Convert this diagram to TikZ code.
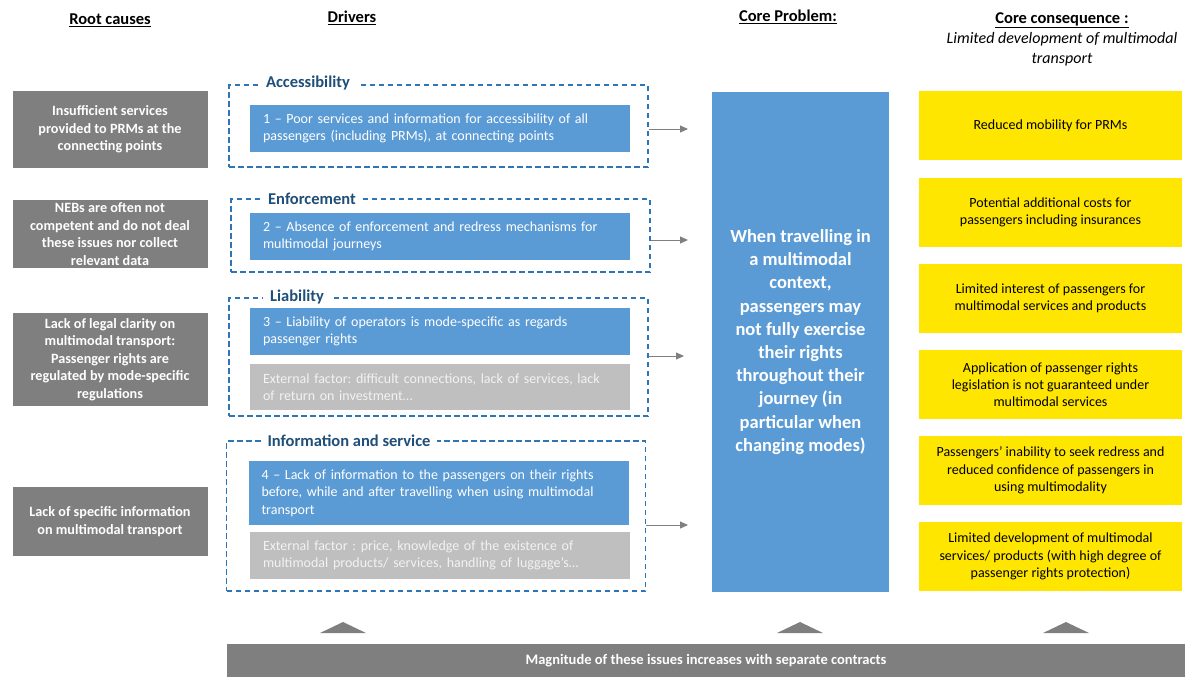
\documentclass[tikz,border=0pt]{standalone}
\usepackage{fontspec}
\setmainfont{Carlito}
\usetikzlibrary{positioning,arrows.meta}

\definecolor{rootgrey}{HTML}{7F7F7F}
\definecolor{driverblue}{HTML}{5B9BD5}
\definecolor{extgrey}{HTML}{BFBFBF}
\definecolor{exttext}{HTML}{F2F2F2}
\definecolor{consyellow}{HTML}{FFE600}
\definecolor{dashblue}{HTML}{2E75B6}
\definecolor{titleblue}{HTML}{1F4E79}

\tikzset{
	header/.style={font=\bfseries\fontsize{16.5}{20}\selectfont, align=center},
	rootbox/.style={fill=rootgrey, text=white, font=\bfseries\fontsize{14.2}{17.5}\selectfont,
			align=center, inner sep=0, minimum width=195},
	group/.style={draw=dashblue, line width=1.1pt, dash pattern=on 5.5pt off 3.5pt,
			inner sep=0, minimum width=419},
	grouptitle/.style={fill=white, text=titleblue, font=\bfseries\fontsize{16.5}{20}\selectfont, inner xsep=7pt},
	driverbox/.style={fill=driverblue, text=white, font=\fontsize{14}{17.5}\selectfont,
			align=left, inner xsep=13, inner ysep=0, text width=354, minimum width=380},
	extbox/.style={driverbox, fill=extgrey, text=exttext},
	corebox/.style={fill=driverblue, text=white, font=\bfseries\fontsize{18.5}{23.2}\selectfont,
			align=center, inner sep=0, minimum width=177, minimum height=500},
	consbox/.style={fill=consyellow, text=black, font=\fontsize{14}{17.3}\selectfont,
			align=center, inner sep=0, minimum width=263, minimum height=69},
	flow/.style={draw=rootgrey, line width=1pt, -{Triangle[length=8pt,width=7pt]}}
}

\begin{document}
\frenchspacing
\begin{tikzpicture}[x=1pt,y=-1pt]
	\useasboundingbox (0,0) rectangle (1185,677);

	% Column headers
	\node[header] (hRoot) at (110,20) {\underline{Root causes}};
	\node[header] (hDrv) at (352,18) {\underline{Drivers}};
	\node[header] (hCore) at (788,17) {\underline{Core Problem:}};
	\node[header, anchor=north] (hCons) at (1062,9) {\underline{Core consequence :}\\
		\textit{\mdseries\fontsize{16}{20}\selectfont Limited development of multimodal}\\
		\textit{\mdseries\fontsize{16}{20}\selectfont transport}};

	% Root causes
	\node[rootbox, minimum height=77] (root1) at (110,129.5) {Insufficient services\\ provided to PRMs at the\\ connecting points};
	\node[rootbox, minimum height=68] (root2) at (110,234) {NEBs are often not\\ competent and do not deal\\ these issues nor collect\\ relevant data};
	\node[rootbox, minimum height=93] (root3) at (110,359.5) {Lack of legal clarity on\\ multimodal transport:\\ Passenger rights are\\ regulated by mode-specific\\ regulations};
	\node[rootbox, minimum height=69] (root4) at (110,521.5) {Lack of specific information\\ on multimodal transport};

	% Driver groups
	\node[group, minimum height=82] (acc) at (438.5,126) {};
	\node[group, minimum height=73] (enf) at (440.5,235.5) {};
	\node[group, minimum height=118] (liab) at (438.5,357) {};
	\node[group, minimum height=150] (info) at (436,516) {};

	\node[grouptitle] (tAcc) at (308,83) {Accessibility};
	\node[grouptitle] (tEnf) at (312,199) {Enforcement};
	\node[grouptitle] (tLiab) at (297,297) {Liability};
	\node[grouptitle] (tInfo) at (349,441) {Information and service};

	% Drivers
	\node[driverbox, minimum height=47] (drv1) at (440,128.5) {1 -- Poor services and information for accessibility of all\\ passengers (including PRMs), at connecting points};
	\node[driverbox, minimum height=47] (drv2) at (440,236.5) {2 -- Absence of enforcement and redress mechanisms for\\ multimodal journeys};
	\node[driverbox, minimum height=47] (drv3) at (440,331.5) {3 -- Liability of operators is mode-specific as regards\\ passenger rights};
	\node[extbox, minimum height=46] (ext3) at (440,387) {External factor: difficult connections, lack of services, lack\\ of return on investment\ldots};
	\node[driverbox, minimum height=64] (drv4) at (438.5,493) {4 -- Lack of information to the passengers on their rights\\ before, while and after travelling when using multimodal\\ transport};
	\node[extbox, minimum height=47] (ext4) at (440,555.5) {External factor : price, knowledge of the existence of\\ multimodal products/ services, handling of luggage's\ldots};

	% Arrows towards the core problem
	\coordinate (a1) at (688,129);
	\coordinate (a2) at (688,240);
	\coordinate (a3) at (684,356);
	\coordinate (a4) at (688,525);
	\draw[flow] (acc.east |- a1) -- (a1);
	\draw[flow] (enf.east |- a2) -- (a2);
	\draw[flow] (liab.east |- a3) -- (a3);
	\draw[flow] (info.east |- a4) -- (a4);

	% Core problem
	\node[corebox] (core) at (800.5,342) {When travelling in\\ a multimodal\\ context,\\ passengers may\\ not fully exercise\\ their rights\\ throughout their\\ journey (in\\ particular when\\ changing modes)};

	% Core consequences
	\node[consbox] (cons1) at (1050.5,125.5) {Reduced mobility for PRMs};
	\node[consbox] (cons2) at (1050.5,212.5) {Potential additional costs for\\ passengers including insurances};
	\node[consbox] (cons3) at (1050.5,298.5) {Limited interest of passengers for\\ multimodal services and products};
	\node[consbox] (cons4) at (1050.5,384.5) {Application of passenger rights\\ legislation is not guaranteed under\\ multimodal services};
	\node[consbox] (cons5) at (1050.5,470.5) {Passengers' inability to seek redress and\\ reduced confidence of passengers in\\ using multimodality};
	\node[consbox] (cons6) at (1050.5,556.5) {Limited development of multimodal\\ services/ products (with high degree of\\ passenger rights protection)};

	% Magnitude bar and its pointers
	\node[fill=rootgrey, text=white, font=\bfseries\fontsize{14.5}{17}\selectfont,
		minimum width=958, minimum height=33, inner sep=0] (bar) at (706,660.5) {Magnitude of these issues increases with separate contracts};
	\foreach \tx in {343,800,1066}
		\fill[rootgrey] (\tx-23,633) -- (\tx+23,633) -- (\tx,622) -- cycle;
\end{tikzpicture}
\end{document}
